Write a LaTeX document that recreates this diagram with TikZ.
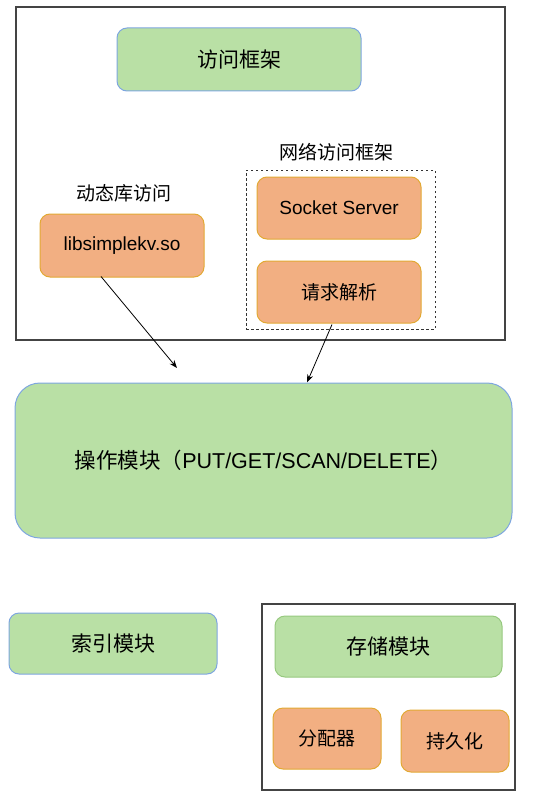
\documentclass[tikz,border=0pt]{standalone}
\usepackage{fontspec}
\setmainfont{Liberation Sans}
\newfontfamily\cjk{Noto Sans CJK SC}
\usetikzlibrary{arrows.meta}
\definecolor{gfill}{HTML}{B9E0A5}
\definecolor{bstroke}{HTML}{7EA6E0}
\definecolor{gstroke}{HTML}{97C97F}
\definecolor{ofill}{HTML}{F2AF82}
\definecolor{ostroke}{HTML}{E2A934}
\definecolor{frame}{HTML}{444444}
\tikzset{
  gbox/.style={draw=bstroke, fill=gfill, line width=1pt, rounded corners=10pt, font=\fontsize{21}{24}\selectfont, inner sep=0pt},
  sgbox/.style={draw=gstroke, fill=gfill, line width=1pt, rounded corners=10pt, font=\fontsize{21}{24}\selectfont, inner sep=0pt},
  obox/.style={draw=ostroke, fill=ofill, line width=1pt, rounded corners=10pt, font=\fontsize{19}{22}\selectfont, inner sep=0pt},
  framebox/.style={draw=frame, line width=1.2pt, inner sep=0pt},
  dashbox/.style={draw=black!80, line width=1pt, dash pattern=on 2.5pt off 2.5pt, inner sep=0pt},
  lbl/.style={font=\fontsize{19}{22}\selectfont, inner sep=0pt},
  arr/.style={draw=black, line width=0.8pt, -{Stealth[length=8pt,width=6pt]}}
}
\begin{document}
\begin{tikzpicture}[x=1pt,y=-1pt]
\useasboundingbox (0,0) rectangle (557,797);
% top frame
\node[framebox, minimum width=489pt, minimum height=333pt] (top) at (260.5,173.5) {};
\node[gbox, minimum width=244pt, minimum height=63pt] (fw) at (239,59.5) {\cjk 访问框架};
\node[lbl] (netlbl) at (336,152) {\cjk 网络访问框架};
\node[dashbox, minimum width=189pt, minimum height=159pt] (net) at (340.5,249.5) {};
\node[obox, minimum width=164pt, minimum height=62pt] (sock) at (339,208) {Socket Server};
\node[obox, minimum width=164pt, minimum height=62pt] (req) at (339,292) {\cjk 请求解析};
\node[lbl] (dynlbl) at (124,193) {\cjk 动态库访问};
\node[obox, minimum width=164pt, minimum height=63pt] (lib) at (122,245.5) {libsimplekv.so};
% operations
\node[gbox, rounded corners=25pt, minimum width=497pt, minimum height=155pt, font=\fontsize{21.5}{24}\selectfont] (ops) at (263.5,460.5) {{\cjk 操作模块（}PUT/GET/SCAN/DELETE{\cjk ）}};
% bottom
\node[gbox, minimum width=208pt, minimum height=61pt] (idx) at (113,643.5) {\cjk 索引模块};
\node[framebox, minimum width=253pt, minimum height=186pt] (storef) at (388.5,697) {};
\node[sgbox, minimum width=227pt, minimum height=61pt] (store) at (388.5,646.5) {\cjk 存储模块};
\node[obox, minimum width=108pt, minimum height=61pt] (alloc) at (327,738.5) {\cjk 分配器};
\node[obox, minimum width=108pt, minimum height=62pt] (pers) at (455,741) {\cjk 持久化};
% arrows
\coordinate (a1s) at ([xshift=-21pt,yshift=1pt]lib.south);
\coordinate (a1e) at (177,368);
\draw[arr] (a1s) -- (a1e);
\coordinate (a2s) at ([xshift=-8.5pt,yshift=5pt]net.south);
\coordinate (a2e) at ([xshift=43.5pt]ops.north);
\draw[arr] (a2s) -- (a2e);
\end{tikzpicture}
\end{document}
